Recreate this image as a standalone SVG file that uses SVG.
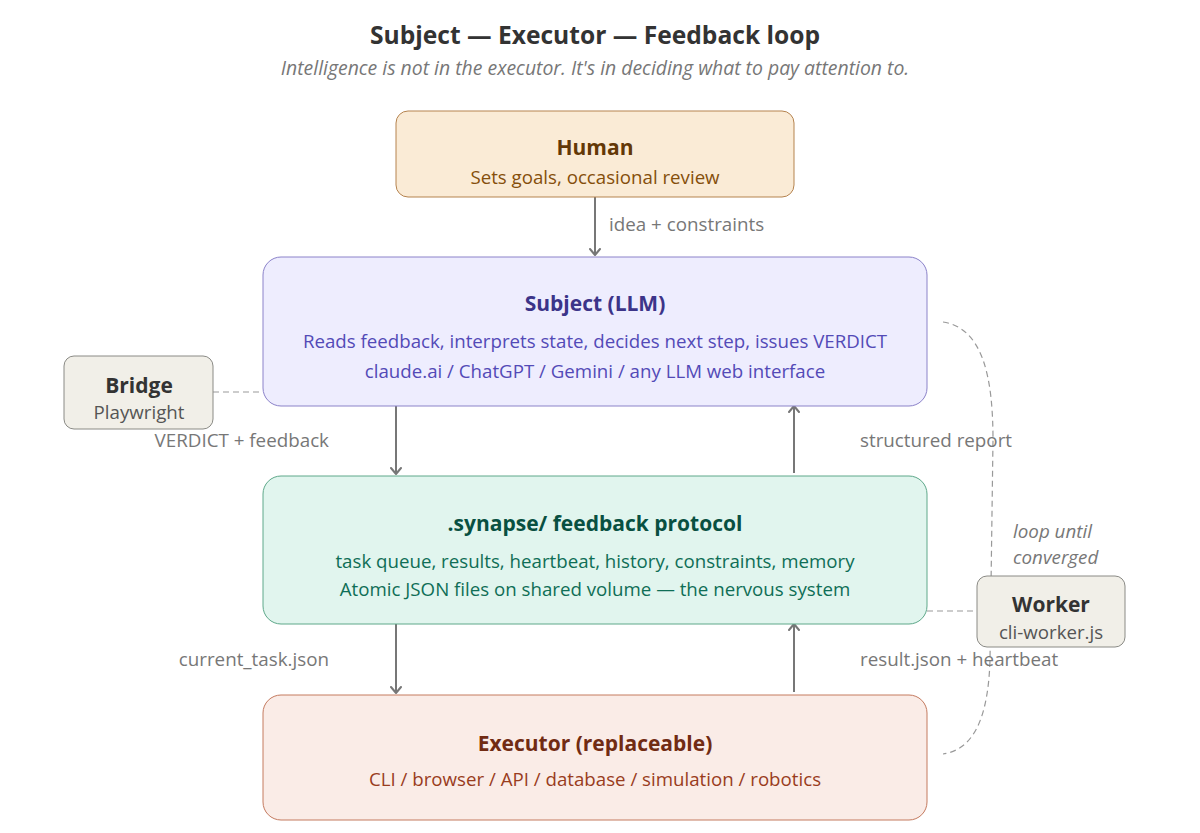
<svg xmlns="http://www.w3.org/2000/svg" width="1200" height="833" viewBox="0 0 1200 833">
<defs>
<marker id="arr" viewBox="0 0 12 12" refX="6" refY="6" markerWidth="12" markerHeight="12" markerUnits="userSpaceOnUse" orient="auto">
<path d="M1 1 L7 6 L1 11" fill="none" stroke="#777" stroke-width="2" stroke-linecap="round" stroke-linejoin="round"/>
</marker>
<style>
text{font-family:"Segoe UI","Open Sans","Noto Sans",sans-serif;text-anchor:middle}
.title{font-size:24.6px;font-weight:bold;fill:#333}
.sub{font-size:19.4px;font-style:italic;fill:#777}
.h{font-size:21px;font-weight:bold}
.t{font-size:18.7px}
.lbl{font-size:18.8px;fill:#777}
.box{stroke-width:1}
.arrow{stroke:#777;stroke-width:2;fill:none;marker-end:url(#arr)}
.dash{stroke:#999;stroke-width:1.2;fill:none;stroke-dasharray:6 4}
</style>
</defs>
<rect width="1200" height="833" fill="#ffffff"/>
<text class="title" x="595" y="44">Subject — Executor — Feedback loop</text>
<text class="sub" x="595" y="75">Intelligence is not in the executor. It's in deciding what to pay attention to.</text>

<g id="connectors">
<line class="arrow" x1="595" y1="197" x2="595" y2="254"/>
<line class="arrow" x1="396" y1="406" x2="396" y2="473"/>
<line class="arrow" x1="794" y1="473" x2="794" y2="407"/>
<line class="arrow" x1="396" y1="624" x2="396" y2="692"/>
<line class="arrow" x1="794" y1="692" x2="794" y2="625"/>
<line class="dash" x1="213" y1="392" x2="263" y2="392"/>
<line class="dash" x1="927" y1="611" x2="977" y2="611"/>
<path class="dash" d="M943 322 C982 328 993 375 993 440 L990 660 C988 725 970 750 943 754"/>
<text class="lbl" x="609" y="231" style="text-anchor:start">idea + constraints</text>
<text class="lbl" x="329" y="447" style="text-anchor:end">VERDICT + feedback</text>
<text class="lbl" x="860" y="447" style="text-anchor:start">structured report</text>
<text class="lbl" x="329" y="666" style="text-anchor:end">current_task.json</text>
<text class="lbl" x="860" y="666" style="text-anchor:start">result.json + heartbeat</text>
<text class="lbl" x="1013" y="538" style="text-anchor:start;font-style:italic">loop until</text>
<text class="lbl" x="1013" y="564" style="text-anchor:start;font-style:italic">converged</text>
</g>

<g id="human">
<rect x="396" y="111" width="398" height="86" rx="12" fill="#faebd6" stroke="#b5834f"/>
<text class="h" x="595" y="155" fill="#633806">Human</text>
<text class="t" x="595" y="184" fill="#854f0b">Sets goals, occasional review</text>
</g>

<g id="subject">
<rect x="263" y="257" width="664" height="149" rx="18" fill="#eeedfe" stroke="#8b82c9"/>
<text class="h" x="595" y="311" fill="#3c3489">Subject (LLM)</text>
<text class="t" x="595" y="348" fill="#534ab7">Reads feedback, interprets state, decides next step, issues VERDICT</text>
<text class="t" x="595" y="378" fill="#534ab7">claude.ai / ChatGPT / Gemini / any LLM web interface</text>
</g>

<g id="bridge">
<rect x="64" y="356" width="149" height="73" rx="10" fill="#f1efe8" stroke="#8a8a85"/>
<text class="h" x="139" y="393" fill="#333">Bridge</text>
<text class="t" x="139" y="419" fill="#555">Playwright</text>
</g>

<g id="synapse">
<rect x="263" y="476" width="664" height="148" rx="18" fill="#e1f5ee" stroke="#5ea88a"/>
<text class="h" x="595" y="531" fill="#085041">.synapse/ feedback protocol</text>
<text class="t" x="595" y="568" fill="#0f6e56">task queue, results, heartbeat, history, constraints, memory</text>
<text class="t" x="595" y="596" fill="#0f6e56">Atomic JSON files on shared volume — the nervous system</text>
</g>

<g id="worker">
<rect x="977" y="576" width="148" height="71" rx="10" fill="#f1efe8" stroke="#8a8a85"/>
<text class="h" x="1051" y="612" fill="#333">Worker</text>
<text class="t" x="1051" y="639" fill="#555">cli-worker.js</text>
</g>

<g id="executor">
<rect x="263" y="695" width="664" height="125" rx="18" fill="#faece7" stroke="#c47a5f"/>
<text class="h" x="595" y="751" fill="#712b13">Executor (replaceable)</text>
<text class="t" x="595" y="786" fill="#993c1d">CLI / browser / API / database / simulation / robotics</text>
</g>
</svg>
